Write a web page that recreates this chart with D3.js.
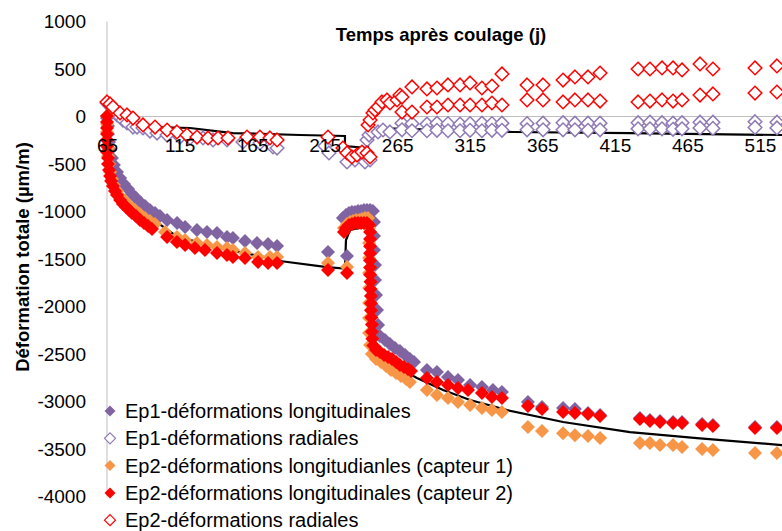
<!DOCTYPE html>
<html>
<head>
<meta charset="utf-8">
<script src="https://cdn.jsdelivr.net/npm/d3@7"></script>
<style>
  body { margin: 0; background: #fff; }
  svg text { font-family: "Liberation Sans", Arial, sans-serif; fill: #000; }
  .axis text { font-size: 19px; }
  .grid-line { stroke: #bfbfbf; stroke-width: 1; }
  .title-text { font-size: 18.5px; font-weight: bold; }
  .legend text { font-size: 20px; }
  .model-line { fill: none; stroke: #000; stroke-width: 2.2; }
</style>
</head>
<body>
<svg id="svg" width="782" height="531"></svg>
<script>
// [jours après coulage, déformation µm/m]
const xTicks = [65, 115, 165, 215, 265, 315, 365, 415, 465, 515];
const yTicks = [1000, 500, 0, -500, -1000, -1500, -2000, -2500, -3000, -3500, -4000];

const ep1Long = [
  [65,-16],[65.7,-100],[65.7,-184],[66.4,-268],[67.1,-353],[68.4,-437],[69.8,-511],[71.9,-584],[74,-648],
  [76.7,-711],[79.5,-763],[82.2,-816],[85,-858],[87.7,-900],[91.2,-942],[94.6,-984],[98.1,-1016],[101.5,-1048],
  [106.4,-1090],[113.3,-1121],[118.8,-1164],[127,-1195],[133.9,-1216],[140.8,-1227],[147.7,-1269],[151.8,-1279],
  [160.1,-1311],[168.4,-1332],[176,-1343],[182.2,-1364],[217.3,-1427],[230.4,-1469],
  [227.6,-1069],[229.7,-1037],[231.8,-1016],[233.8,-1005],[235.9,-1005],[238,-995],[240.1,-995],[242.1,-984],
  [244.2,-984],[246.3,-984],[248.3,-995],
  [249,-1111],[249,-1258],[249,-1406],[249.7,-1564],[249.7,-1722],[250.4,-1880],[251.1,-2037],[251.8,-2195],[253.1,-2311],
  [256.6,-2353],[260,-2395],[263.5,-2437],[266.9,-2469],[270.4,-2511],[273.8,-2553],[276.6,-2585],
  [285.5,-2669],[292.4,-2690],[300,-2743],[306.9,-2774],[315.2,-2827],[323.4,-2848],[331,-2880],[337.2,-2901],
  [355.1,-3006],[364.8,-3059],[379.3,-3069],[387.5,-3080],[396.5,-3122],[404.8,-3143],[432.3,-3174],[439.2,-3195],
  [446.1,-3206],[455.1,-3216],[461.3,-3216],[475.1,-3237],[482.6,-3248],[511.6,-3269],[526.7,-3269]
];

const ep1Rad = [
  [65,142],[67.1,111],[69.1,68],[71.9,16],[74,-5],[76,-37],[78.8,-68],[82.9,-111],[85.7,-111],[89.8,-121],
  [94.6,-153],[99.5,-174],[106.4,-195],[115.3,-216],[122.2,-226],[131.2,-226],[138.1,-247],[147.7,-247],
  [158.7,-268],[170.4,-279],[179.4,-321],[182.2,-332],
  [215.2,-311],[218,-384],[230.4,-479],[235.9,-458],[242.8,-479],[246.3,-458],[244.2,-247],[245.6,-195],
  [247.6,-163],[251.8,-163],[255.2,-142],[260,-163],
  [268.3,-70],[275.2,-75],[285.5,-80],[292.4,-70],[300,-75],[308.3,-80],[315.2,-75],[323.4,-70],[330.3,-75],
  [337.2,-70],[354.5,-75],[365.5,-70],[379.3,-65],[387.5,-70],[396.5,-70],[404.8,-70],[431,-65],[439.2,-60],
  [447.5,-65],[455.1,-70],[461.3,-65],[473.7,-60],[482.6,-60],[511.6,-55],[526.7,-60],
  [268.3,-140],[275.2,-150],[285.5,-150],[292.4,-145],[300,-150],[308.3,-150],[315.2,-145],[323.4,-150],[330.3,-145],
  [337.2,-145],[354.5,-140],[365.5,-140],[379.3,-140],[387.5,-140],[396.5,-145],[404.8,-140],[431,-130],[439.2,-130],
  [447.5,-130],[455.1,-135],[461.3,-130],[473.7,-120],[482.6,-125],[511.6,-115],[526.7,-120]
];

const ep2Long1 = [
  [65,5],[65,-79],[65,-163],[65,-247],[65.7,-332],[65.7,-416],[66.4,-500],[67.1,-584],[68.4,-658],[69.8,-721],
  [71.9,-784],[74.6,-847],[77.4,-890],[80.9,-942],[84.3,-984],[87.7,-1027],[91.2,-1069],[94.6,-1100],[98.1,-1132],
  [105,-1216],[113.2,-1269],[118.8,-1300],[127,-1332],[133.9,-1353],[140.8,-1374],[147.7,-1385],[151.8,-1406],
  [160.1,-1437],[169.1,-1479],[177.3,-1479],[182.2,-1479],[217.3,-1542],[230.4,-1585],
  [228.3,-1174],[230.4,-1132],[232.5,-1111],[234.5,-1100],[236.6,-1090],[238.7,-1090],[240.7,-1079],[242.8,-1069],[244.9,-1069],
  [245.6,-1174],[245.6,-1332],[245.6,-1490],[245.6,-1648],[245.6,-1806],[245.6,-1964],[245.6,-2122],[245.6,-2280],
  [246.3,-2406],[247.6,-2500],
  [250.4,-2553],[253.8,-2585],[257.3,-2627],[260.7,-2669],[264.2,-2701],[267.6,-2732],[271.1,-2764],[273.8,-2795],
  [285.5,-2880],[292.4,-2932],[300,-2964],[306.9,-3006],[315.2,-3038],[323.4,-3069],[330.3,-3090],[337.2,-3111],
  [355.1,-3269],[364.8,-3311],[379.3,-3333],[387.5,-3354],[396.5,-3364],[404.8,-3385],[432.3,-3438],[439.2,-3438],
  [446.1,-3459],[455.1,-3459],[461.3,-3480],[475.1,-3501],[482.6,-3511],[511.6,-3543],[526.7,-3543]
];

const ep2Long2 = [
  [65,5],[65,-58],[65,-121],[65,-184],[65,-247],[65,-311],[65,-374],[65.7,-437],[65.7,-500],[66.4,-563],
  [67.1,-627],[67.8,-679],[69.1,-732],[70.5,-784],[71.9,-826],[74,-879],[76,-921],[78.1,-953],[80.2,-984],
  [82.2,-1016],[85,-1048],[87.7,-1090],[90.5,-1121],[93.3,-1153],[96,-1185],
  [106.4,-1269],[113.2,-1321],[118.8,-1353],[125.6,-1385],[132.5,-1406],[140.8,-1437],[147.7,-1458],[151.8,-1479],
  [160.1,-1490],[169.1,-1532],[176,-1542],[182.2,-1542],[217.3,-1616],[230.4,-1648],
  [228.3,-1216],[229.7,-1174],[231.8,-1142],[233.8,-1132],[235.9,-1121],[238,-1121],[240.1,-1121],[242.1,-1121],
  [244.2,-1121],[245.6,-1142],
  [246.3,-1216],[246.3,-1290],[246.3,-1365],[246.3,-1440],[246.3,-1515],[246.3,-1590],[246.3,-1665],[246.6,-1740],
  [246.6,-1815],[246.9,-1890],[246.9,-1965],[246.9,-2040],[247.2,-2115],[247.6,-2190],[247.6,-2265],[247.9,-2340],
  [248.6,-2410],[250.4,-2458],
  [253.1,-2480],[255.9,-2511],[258.7,-2532],[261.4,-2553],[264.2,-2585],[266.9,-2617],[269.7,-2638],[272.4,-2659],[274.5,-2680],
  [285.5,-2753],[292.4,-2795],[300,-2827],[306.9,-2859],[313.8,-2880],[323.4,-2911],[330.3,-2953],[337.2,-2964],
  [355.1,-3048],[364.8,-3080],[379.3,-3111],[387.5,-3122],[396.5,-3132],[404.8,-3153],[432.3,-3185],[439.2,-3206],
  [446.1,-3216],[455.1,-3227],[461.3,-3227],[475.1,-3248],[482.6,-3258],[511.6,-3280],[526.7,-3280]
];

const ep2Rad = [
  [65,153],[67.1,132],[69.1,100],[74,37],[78.8,16],[82.9,-16],[89.8,-89],[98.1,-111],[106.4,-142],[113.2,-163],
  [120.1,-195],[127,-216],[134.6,-226],[141.5,-226],[148.4,-226],[161.5,-216],[170.4,-216],[177.3,-226],[182.2,-247],
  [217.3,-216],[227.6,-332],[230.4,-384],[233.8,-426],[237.3,-405],[240.7,-374],[244.2,-384],[246.3,-426],
  [244.9,-89],[246.3,-37],[248.3,37],[249.7,68],[251.8,100],[254.5,153],[258,174],[260,142],[264.9,174],[266.9,226],
  [268.3,205],[275.2,311],[285.5,290],[292.4,300],[300,332],[308.3,332],[315.2,353],[323.4,300],[330.3,321],
  [337.2,448],[354.5,332],[365.5,332],[379.3,384],[387.5,416],[396.5,416],[404.8,458],[431,500],[439.2,500],
  [447.5,511],[455.1,511],[461.3,490],[473.7,553],[482.6,500],[511.6,511],[526.7,532],
  [268.3,47],[275.2,47],[285.5,100],[292.4,100],[300,121],[308.3,121],[315.2,121],[323.4,121],[330.3,142],
  [337.2,121],[354.5,174],[365.5,174],[379.3,153],[387.5,174],[396.5,174],[404.8,163],[431,153],[439.2,163],
  [447.5,174],[455.1,163],[461.3,174],[473.7,226],[482.6,237],[511.6,247],[526.7,258]
];

// courbes noires (sans légende)
const modelRadial = [
  [65,89],[69.1,37],[74,-5],[79.5,-47],[85.7,-68],[99.5,-111],[122.2,-121],[151.8,-174],[198,-195],[229,-205],
  [229,-311],[244.9,-332],[244.9,-142],[251.1,-121],[344.8,-163],[425.4,-174],[530.2,-195],[565,-205]
];
const modelLong = [
  [65,5],[65.7,-247],[67.1,-458],[69.1,-616],[72.6,-753],[77.4,-869],[82.9,-953],[89.8,-1037],[100.1,-1121],
  [111.9,-1248],[129.1,-1332],[149.8,-1406],[170.4,-1469],[184.2,-1521],[216.6,-1585],[229,-1600],[229.7,-1300],
  [232.5,-1195],[245.6,-1153],[246.3,-2353],[249.7,-2480],[260,-2595],[278.6,-2753],[296.6,-2880],[315.2,-2985],
  [340.7,-3090],[379.3,-3216],[425.4,-3322],[471.6,-3385],[530.2,-3459],[565,-3490]
];

const seriesNames = [
  'Ep1-déformations longitudinales',
  'Ep1-déformations radiales',
  'Ep2-déformations longitudianles (capteur 1)',
  'Ep2-déformations longitudinales (capteur 2)',
  'Ep2-déformations radiales'
];

const series = [
  {name: seriesNames[0], data: ep1Long, color: '#8064a2', filled: true},
  {name: seriesNames[1], data: ep1Rad, color: '#8f7ab5', filled: false},
  {name: seriesNames[2], data: ep2Long1, color: '#f79646', filled: true},
  {name: seriesNames[3], data: ep2Long2, color: '#ff0000', filled: true},
  {name: seriesNames[4], data: ep2Rad, color: '#ff0000', filled: false},
];

const width = 782, height = 531;
const svg = d3.select('#svg');

const xScale = d3.scaleLinear().domain([65, 565]).range([107, 832.5]);
const yScale = d3.scaleLinear().domain([-4000, 1000]).range([496.5, 21.5]);

const diamond = r => `M0,${-r}L${r},0L0,${r}L${-r},0Z`;

// axis lines (under the marks)
svg.append('line').attr('class', 'grid-line')
    .attr('x1', xScale(65)).attr('x2', width)
    .attr('y1', yScale(0)).attr('y2', yScale(0));
svg.append('line').attr('class', 'grid-line')
    .attr('x1', xScale(65)).attr('x2', xScale(65))
    .attr('y1', yScale(1000)).attr('y2', yScale(-4000));

const line = d3.line().x(d => xScale(d[0])).y(d => yScale(d[1]));
svg.append('path').attr('class', 'model-line').attr('d', line(modelRadial));
svg.append('path').attr('class', 'model-line').attr('d', line(modelLong));

series.forEach(s => {
    svg.append('g')
        .selectAll('path')
        .data(s.data)
        .enter()
        .append('path')
        .attr('transform', d => 'translate(' + xScale(d[0]) + ',' + yScale(d[1]) + ')')
        .attr('d', diamond(s.filled ? 7 : 6.8))
        .attr('fill', s.filled ? s.color : '#fff')
        .attr('stroke', s.filled ? 'none' : s.color)
        .attr('stroke-width', 1.5);
});

// tick labels on top, plain numbers (no thousands separator)
const yAxis = d3.axisLeft(yScale).tickValues(yTicks).tickFormat(d => String(d)).tickSize(0).tickPadding(21);
svg.append('g')
    .attr('class', 'axis')
    .attr('transform', 'translate(' + xScale(65) + ',0)')
    .call(yAxis)
    .call(g => g.select('.domain').remove());

const xAxis = d3.axisBottom(xScale).tickValues(xTicks).tickFormat(d => String(d)).tickSize(0).tickPadding(22);
svg.append('g')
    .attr('class', 'axis')
    .attr('transform', 'translate(0,' + yScale(0) + ')')
    .call(xAxis)
    .call(g => g.select('.domain').remove());

svg.append('text')
    .attr('class', 'title-text')
    .attr('x', 441).attr('y', 41)
    .attr('text-anchor', 'middle')
    .text('Temps après coulage (j)');

svg.append('text')
    .attr('class', 'title-text')
    .attr('transform', 'translate(29,257) rotate(-90)')
    .attr('text-anchor', 'middle')
    .text('Déformation totale (µm/m)');

const legend = svg.append('g').attr('class', 'legend');
const rows = legend.selectAll('g')
    .data(series)
    .enter()
    .append('g')
    .attr('transform', (d, i) => 'translate(110,' + (411 + i * 27.3) + ')');
rows.append('path')
    .attr('d', diamond(5.5))
    .attr('fill', d => d.filled ? d.color : '#fff')
    .attr('stroke', d => d.filled ? 'none' : d.color)
    .attr('stroke-width', 1.2);
rows.append('text')
    .attr('x', 15).attr('dy', '0.35em')
    .text(d => d.name);
</script>
</body>
</html>
